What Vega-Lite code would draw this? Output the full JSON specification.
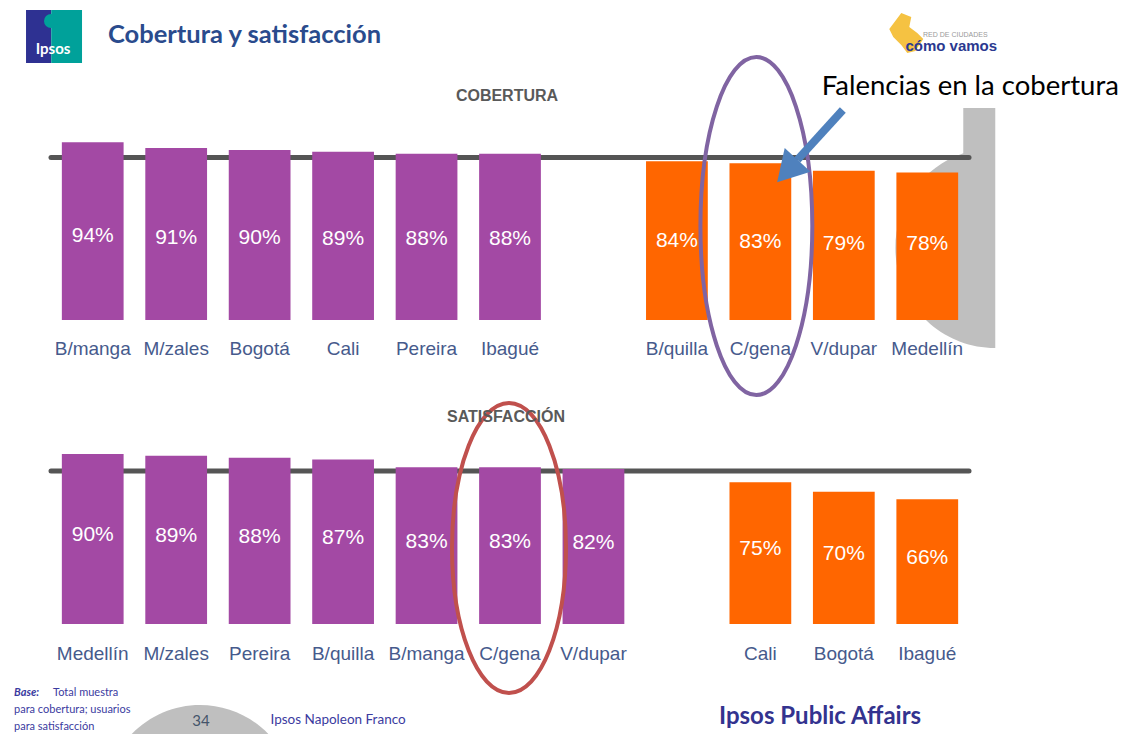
{
  "$schema": "https://vega.github.io/schema/vega-lite/v6.json",
  "background": "white",
  "padding": {"left": 14, "top": 10, "right": 0, "bottom": 0},
  "config": {
    "view": {"stroke": null},
    "font": "Liberation Sans"
  },
  "title": {"text": "Cobertura y satisfacción", "anchor": "start", "frame": "group", "dx": 57, "offset": -38, "font": "Lato", "fontSize": 25.5, "fontWeight": "bold", "color": "#2A4B8D"},
  "datasets": {
    "cobertura": [
      {"ciudad": "B/manga", "valor": 0.94, "grupo": "alto"},
      {"ciudad": "M/zales", "valor": 0.91, "grupo": "alto"},
      {"ciudad": "Bogotá", "valor": 0.90, "grupo": "alto"},
      {"ciudad": "Cali", "valor": 0.89, "grupo": "alto"},
      {"ciudad": "Pereira", "valor": 0.88, "grupo": "alto"},
      {"ciudad": "Ibagué", "valor": 0.88, "grupo": "alto"},
      {"ciudad": "B/quilla", "valor": 0.84, "grupo": "bajo"},
      {"ciudad": "C/gena", "valor": 0.83, "grupo": "bajo"},
      {"ciudad": "V/dupar", "valor": 0.79, "grupo": "bajo"},
      {"ciudad": "Medellín", "valor": 0.78, "grupo": "bajo"}
    ],
    "satisfaccion": [
      {"ciudad": "Medellín", "valor": 0.90, "grupo": "alto"},
      {"ciudad": "M/zales", "valor": 0.89, "grupo": "alto"},
      {"ciudad": "Pereira", "valor": 0.88, "grupo": "alto"},
      {"ciudad": "B/quilla", "valor": 0.87, "grupo": "alto"},
      {"ciudad": "B/manga", "valor": 0.83, "grupo": "alto"},
      {"ciudad": "C/gena", "valor": 0.83, "grupo": "alto"},
      {"ciudad": "V/dupar", "valor": 0.82, "grupo": "alto"},
      {"ciudad": "Cali", "valor": 0.75, "grupo": "bajo"},
      {"ciudad": "Bogotá", "valor": 0.70, "grupo": "bajo"},
      {"ciudad": "Ibagué", "valor": 0.66, "grupo": "bajo"}
    ]
  },
  "spacing": 115,
  "bounds": "flush",
  "vconcat": [
    {
      "title": {"text": "COBERTURA", "anchor": "middle", "frame": "group", "dx": -3, "offset": -94, "fontSize": 16, "fontWeight": "bold", "color": "#595959", "font": "Liberation Sans"},
      "width": 918,
      "height": 189,
      "data": {"name": "cobertura"},
      "resolve": {"scale": {"y": "independent"}},
      "layer": [
        {
          "data": {"values": [{}]},
          "mark": {"type": "point", "shape": "M 0 -1.4 L -0.32 -1.4 L -0.32 -0.947 A 1 1 0 0 0 0 1 Z", "size": 40000, "filled": true, "fill": "#BFBFBF", "strokeWidth": 0, "opacity": 1, "xOffset": 68},
          "encoding": {"x": {"datum": "Medellín", "type": "nominal", "axis": null}, "y": {"datum": 0.381, "type": "quantitative", "scale": {"domain": [0, 1]}, "axis": null}}
        },
        {
          "data": {"values": [{}]},
          "mark": {"type": "rule", "color": "#555555", "strokeWidth": 5, "strokeCap": "round"},
          "encoding": {"y": {"datum": 0.86, "type": "quantitative", "scale": {"domain": [0, 1]}, "axis": null}}
        },
        {
          "mark": {"type": "bar"},
          "encoding": {
            "x": {"field": "ciudad", "type": "nominal", "sort": null, "title": null,
                  "scale": {"domain": ["B/manga", "M/zales", "Bogotá", "Cali", "Pereira", "Ibagué", " ", "B/quilla", "C/gena", "V/dupar", "Medellín"], "paddingInner": 0.26, "paddingOuter": 0.13},
                  "axis": null},
            "y": {"field": "valor", "type": "quantitative", "scale": {"domain": [0, 1]}, "axis": null},
            "color": {"field": "grupo", "type": "nominal", "scale": {"domain": ["alto", "bajo"], "range": ["#A349A4", "#FF6600"]}, "legend": null}
          }
        },
        {
          "mark": {"type": "text", "color": "#FFFFFF", "fontSize": 21, "font": "Liberation Sans", "baseline": "middle"},
          "encoding": {
            "x": {"field": "ciudad", "type": "nominal", "sort": null, "axis": null},
            "y": {"field": "valor", "type": "quantitative", "scale": {"domain": [-0.74, 3.04]}, "axis": null},
            "text": {"field": "valor", "type": "quantitative", "format": ".0%"}
          }
        },
        {
          "mark": {"type": "text", "color": "#465A8C", "fontSize": 19, "font": "Liberation Sans", "baseline": "middle", "align": "center"},
          "encoding": {
            "x": {"field": "ciudad", "type": "nominal", "sort": null, "axis": null},
            "y": {"datum": -0.153, "type": "quantitative", "scale": {"domain": [0, 1]}, "axis": null},
            "text": {"field": "ciudad", "type": "nominal"}
          }
        },
        {
          "data": {"values": [{}]},
          "mark": {"type": "point", "shape": "M -0.331 0 A 0.331 1 0 1 0 0.331 0 A 0.331 1 0 1 0 -0.331 0 Z", "size": 114244, "filled": false, "stroke": "#8064A2", "strokeWidth": 4, "opacity": 1, "xOffset": -4},
          "encoding": {"x": {"datum": "C/gena", "type": "nominal", "axis": null}, "y": {"datum": 0.497, "type": "quantitative", "scale": {"domain": [0, 1]}, "axis": null}}
        },
        {
          "data": {"values": [{}]},
          "mark": {"type": "rule", "color": "#4F81BD", "strokeWidth": 8, "xOffset": -1, "x2Offset": 37},
          "encoding": {"x": {"datum": "V/dupar", "type": "nominal", "axis": null}, "x2": {"datum": "C/gena"}, "y": {"datum": 1.111, "type": "quantitative", "scale": {"domain": [0, 1]}, "axis": null}, "y2": {"datum": 0.847}}
        },
        {
          "data": {"values": [{}]},
          "mark": {"type": "point", "shape": "triangle-up", "size": 1225, "angle": 222.5, "filled": true, "fill": "#4F81BD", "opacity": 1, "strokeWidth": 0, "xOffset": 27},
          "encoding": {"x": {"datum": "C/gena", "type": "nominal", "axis": null}, "y": {"datum": 0.788, "type": "quantitative", "scale": {"domain": [0, 1]}, "axis": null}}
        },
        {
          "data": {"values": [{}]},
          "mark": {"type": "text", "text": "Falencias en la cobertura", "font": "Lato", "fontSize": 27.5, "color": "#000000", "align": "center", "baseline": "alphabetic", "dx": 43},
          "encoding": {"x": {"datum": "Medellín", "type": "nominal", "axis": null}, "y": {"datum": 1.19, "type": "quantitative", "scale": {"domain": [0, 1]}, "axis": null}}
        },
        {
          "data": {"values": [{}]},
          "mark": {"type": "point", "shape": "M -1 -0.946 L -0.1 -0.946 L -0.1 0.946 L -1 0.946 Z", "size": 3136, "filled": true, "fill": "#2E3192", "opacity": 1, "strokeWidth": 0, "xOffset": -38.7},
          "encoding": {"x": {"datum": "B/manga", "type": "nominal", "axis": null}, "y": {"datum": 1.5, "type": "quantitative", "scale": {"domain": [0, 1]}, "axis": null}}
        },
        {
          "data": {"values": [{}]},
          "mark": {"type": "point", "shape": "M -0.1 -0.946 L 1 -0.946 L 1 0.946 L -0.1 0.946 Z", "size": 3136, "filled": true, "fill": "#00A19A", "opacity": 1, "strokeWidth": 0, "xOffset": -38.7},
          "encoding": {"x": {"datum": "B/manga", "type": "nominal", "axis": null}, "y": {"datum": 1.5, "type": "quantitative", "scale": {"domain": [0, 1]}, "axis": null}}
        },
        {
          "data": {"values": [{}]},
          "mark": {"type": "point", "shape": "circle", "size": 196, "filled": true, "fill": "#00A19A", "opacity": 1, "strokeWidth": 0, "xOffset": -41.7},
          "encoding": {"x": {"datum": "B/manga", "type": "nominal", "axis": null}, "y": {"datum": 1.582, "type": "quantitative", "scale": {"domain": [0, 1]}, "axis": null}}
        },
        {
          "data": {"values": [{}]},
          "mark": {"type": "text", "text": "Ipsos", "font": "Lato", "fontSize": 15, "fontWeight": "bold", "color": "#FFFFFF", "align": "center", "baseline": "middle", "dx": -39.7},
          "encoding": {"x": {"datum": "B/manga", "type": "nominal", "axis": null}, "y": {"datum": 1.434, "type": "quantitative", "scale": {"domain": [0, 1]}, "axis": null}}
        },
        {
          "data": {"values": [{}]},
          "mark": {"type": "point", "shape": "M -0.2 -1 L 0.3 -0.8 L 0.2 -0.3 L 0.6 0 L 0.9 0.3 L 0.5 0.9 L 0.1 1 L -0.2 0.6 L -0.6 0.2 L -0.8 -0.2 L -0.5 -0.6 Z", "size": 1600, "filled": true, "fill": "#F5C242", "opacity": 1, "strokeWidth": 0, "xOffset": -22},
          "encoding": {"x": {"datum": "Medellín", "type": "nominal", "axis": null}, "y": {"datum": 1.519, "type": "quantitative", "scale": {"domain": [0, 1]}, "axis": null}}
        },
        {
          "data": {"values": [{}]},
          "mark": {"type": "text", "text": "RED DE CIUDADES", "fontSize": 7, "color": "#9A9A9A", "align": "center", "baseline": "middle", "dx": 28},
          "encoding": {"x": {"datum": "Medellín", "type": "nominal", "axis": null}, "y": {"datum": 1.508, "type": "quantitative", "scale": {"domain": [0, 1]}, "axis": null}}
        },
        {
          "data": {"values": [{}]},
          "mark": {"type": "text", "text": "cómo vamos", "fontSize": 15, "fontWeight": "bold", "color": "#2B3990", "align": "center", "baseline": "middle", "dx": 24},
          "encoding": {"x": {"datum": "Medellín", "type": "nominal", "axis": null}, "y": {"datum": 1.45, "type": "quantitative", "scale": {"domain": [0, 1]}, "axis": null}}
        }
      ]
    },
    {
      "title": {"text": "SATISFACCIÓN", "anchor": "middle", "frame": "group", "dx": -4, "offset": -30, "fontSize": 16, "fontWeight": "bold", "color": "#595959", "font": "Liberation Sans"},
      "width": 918,
      "height": 189,
      "data": {"name": "satisfaccion"},
      "resolve": {"scale": {"y": "independent"}},
      "layer": [
        {
          "data": {"values": [{}]},
          "mark": {"type": "point", "shape": "M -0.719 -0.695 A 1 1 0 0 1 0.719 -0.695 Z", "size": 36100, "filled": true, "fill": "#BFBFBF", "strokeWidth": 0, "opacity": 1, "xOffset": 107.3},
          "encoding": {"x": {"datum": "Medellín", "type": "nominal", "axis": null}, "y": {"datum": -0.931, "type": "quantitative", "scale": {"domain": [0, 1]}, "axis": null}}
        },
        {
          "data": {"values": [{}]},
          "mark": {"type": "rule", "color": "#555555", "strokeWidth": 5, "strokeCap": "round"},
          "encoding": {"y": {"datum": 0.81, "type": "quantitative", "scale": {"domain": [0, 1]}, "axis": null}}
        },
        {
          "mark": {"type": "bar"},
          "encoding": {
            "x": {"field": "ciudad", "type": "nominal", "sort": null, "title": null,
                  "scale": {"domain": ["Medellín", "M/zales", "Pereira", "B/quilla", "B/manga", "C/gena", "V/dupar", " ", "Cali", "Bogotá", "Ibagué"], "paddingInner": 0.26, "paddingOuter": 0.13},
                  "axis": null},
            "y": {"field": "valor", "type": "quantitative", "scale": {"domain": [0, 1]}, "axis": null},
            "color": {"field": "grupo", "type": "nominal", "scale": {"domain": ["alto", "bajo"], "range": ["#A349A4", "#FF6600"]}, "legend": null}
          }
        },
        {
          "mark": {"type": "text", "color": "#FFFFFF", "fontSize": 21, "font": "Liberation Sans", "baseline": "middle"},
          "encoding": {
            "x": {"field": "ciudad", "type": "nominal", "sort": null, "axis": null},
            "y": {"field": "valor", "type": "quantitative", "scale": {"domain": [-0.04, 1.96]}, "axis": null},
            "text": {"field": "valor", "type": "quantitative", "format": ".0%"}
          }
        },
        {
          "mark": {"type": "text", "color": "#465A8C", "fontSize": 19, "font": "Liberation Sans", "baseline": "middle", "align": "center"},
          "encoding": {
            "x": {"field": "ciudad", "type": "nominal", "sort": null, "axis": null},
            "y": {"datum": -0.159, "type": "quantitative", "scale": {"domain": [0, 1]}, "axis": null},
            "text": {"field": "ciudad", "type": "nominal"}
          }
        },
        {
          "data": {"values": [{}]},
          "mark": {"type": "point", "shape": "M -0.393 0 A 0.393 1 0 1 0 0.393 0 A 0.393 1 0 1 0 -0.393 0 Z", "size": 84100, "filled": false, "stroke": "#C0504D", "strokeWidth": 4, "opacity": 1, "xOffset": -1},
          "encoding": {"x": {"datum": "C/gena", "type": "nominal", "axis": null}, "y": {"datum": 0.402, "type": "quantitative", "scale": {"domain": [0, 1]}, "axis": null}}
        },
        {
          "data": {"values": [{}]},
          "mark": {"type": "text", "text": "Base:", "font": "Lato", "fontSize": 11, "fontWeight": "bold", "fontStyle": "italic", "color": "#3B3BA0", "align": "left", "baseline": "middle", "dx": -78.7},
          "encoding": {"x": {"datum": "Medellín", "type": "nominal", "axis": null}, "y": {"datum": -0.365, "type": "quantitative", "scale": {"domain": [0, 1]}, "axis": null}}
        },
        {
          "data": {"values": [{}]},
          "mark": {"type": "text", "text": "Total muestra", "font": "Lato", "fontSize": 11, "color": "#3B3BA0", "align": "left", "baseline": "middle", "dx": -39.7},
          "encoding": {"x": {"datum": "Medellín", "type": "nominal", "axis": null}, "y": {"datum": -0.365, "type": "quantitative", "scale": {"domain": [0, 1]}, "axis": null}}
        },
        {
          "data": {"values": [{}]},
          "mark": {"type": "text", "text": "para cobertura; usuarios", "font": "Lato", "fontSize": 11, "color": "#3B3BA0", "align": "left", "baseline": "middle", "dx": -78.7},
          "encoding": {"x": {"datum": "Medellín", "type": "nominal", "axis": null}, "y": {"datum": -0.455, "type": "quantitative", "scale": {"domain": [0, 1]}, "axis": null}}
        },
        {
          "data": {"values": [{}]},
          "mark": {"type": "text", "text": "para satisfacción", "font": "Lato", "fontSize": 11, "color": "#3B3BA0", "align": "left", "baseline": "middle", "dx": -78.7},
          "encoding": {"x": {"datum": "Medellín", "type": "nominal", "axis": null}, "y": {"datum": -0.545, "type": "quantitative", "scale": {"domain": [0, 1]}, "axis": null}}
        },
        {
          "data": {"values": [{}]},
          "mark": {"type": "text", "text": "34", "font": "Lato", "fontSize": 15, "color": "#44546A", "align": "center", "baseline": "middle", "dx": 24.8},
          "encoding": {"x": {"datum": "M/zales", "type": "nominal", "axis": null}, "y": {"datum": -0.513, "type": "quantitative", "scale": {"domain": [0, 1]}, "axis": null}}
        },
        {
          "data": {"values": [{}]},
          "mark": {"type": "text", "text": "Ipsos Napoleon Franco", "font": "Lato", "fontSize": 13.5, "color": "#3B3BA0", "align": "center", "baseline": "middle", "dx": -5},
          "encoding": {"x": {"datum": "B/quilla", "type": "nominal", "axis": null}, "y": {"datum": -0.508, "type": "quantitative", "scale": {"domain": [0, 1]}, "axis": null}}
        },
        {
          "data": {"values": [{}]},
          "mark": {"type": "text", "text": "Ipsos Public Affairs", "font": "Lato", "fontSize": 24, "fontWeight": "bold", "color": "#33338F", "align": "center", "baseline": "middle", "dx": 59.7},
          "encoding": {"x": {"datum": "Cali", "type": "nominal", "axis": null}, "y": {"datum": -0.492, "type": "quantitative", "scale": {"domain": [0, 1]}, "axis": null}}
        }
      ]
    }
  ]
}
